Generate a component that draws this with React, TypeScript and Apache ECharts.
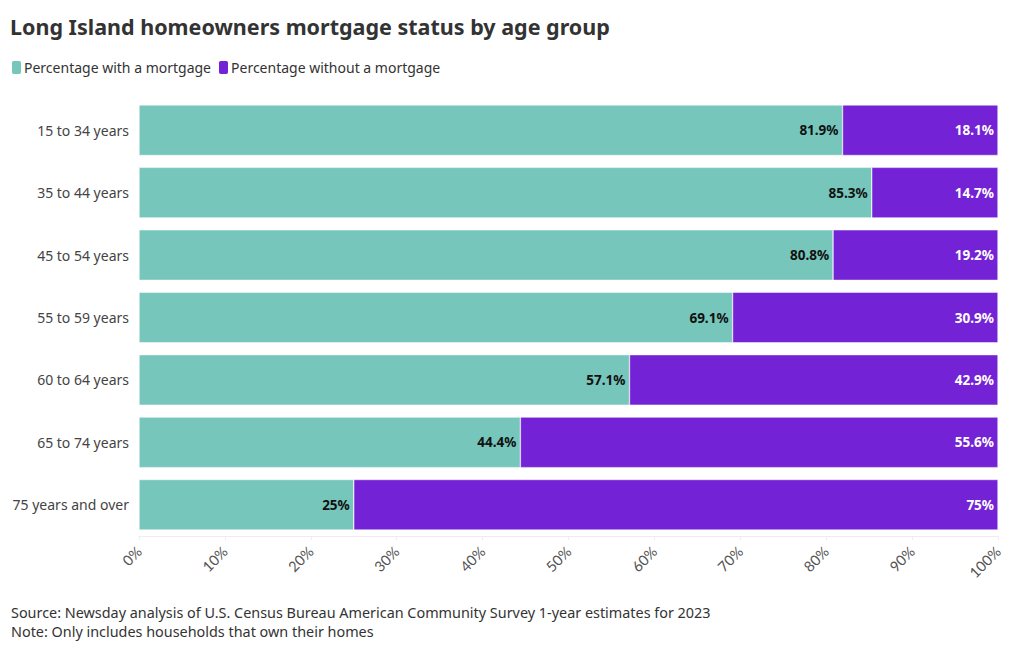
import React, { useEffect, useRef } from "react";
import * as echarts from "echarts";

const categories = [
  "15 to 34 years",
  "35 to 44 years",
  "45 to 54 years",
  "55 to 59 years",
  "60 to 64 years",
  "65 to 74 years",
  "75 years and over",
];
const withMortgage = [81.9, 85.3, 80.8, 69.1, 57.1, 44.4, 25];
const withoutMortgage = [18.1, 14.7, 19.2, 30.9, 42.9, 55.6, 75];
const seriesNames = ["Percentage with a mortgage", "Percentage without a mortgage"];
const colors = ["#76C6BC", "#7322D6"];

export default function App() {
  const ref = useRef<HTMLDivElement>(null);
  useEffect(() => {
    const chart = echarts.init(ref.current!, null, { renderer: "svg" });
    const font = "'Noto Sans', sans-serif";
    chart.setOption({
      animation: false,
      textStyle: { fontFamily: font },
      title: {
        text: "Long Island homeowners mortgage status by age group",
        left: 5,
        top: 10,
        textStyle: { fontSize: 21.5, fontWeight: "bold", color: "#333", fontFamily: font },
      },
      legend: {
        left: 5,
        top: 54,
        itemWidth: 11,
        itemHeight: 15,
        itemGap: 6,
        icon: "roundRect",
        data: seriesNames,
        textStyle: { fontSize: 14, color: "#333", padding: [0, 0, 0, -3] },
      },
      grid: { left: 139, right: 22, top: 99, bottom: 114 },
      xAxis: {
        type: "value",
        min: 0,
        max: 100,
        interval: 10,
        splitLine: { show: false },
        axisLine: { show: true, lineStyle: { color: "#f3e8f3" } },
        axisTick: { show: true, length: 4, lineStyle: { color: "#eee" } },
        axisLabel: {
          formatter: "{value}%",
          rotate: 45,
          fontSize: 14.5,
          color: "#555",
          fontFamily: "Lato, sans-serif",
          margin: 13,
        },
      },
      yAxis: {
        type: "category",
        inverse: true,
        data: categories,
        axisLine: { show: false },
        axisTick: { show: false },
        axisLabel: { fontSize: 14, color: "#444", margin: 10 },
      },
      series: [
        {
          name: seriesNames[0],
          type: "bar",
          stack: "total",
          data: withMortgage,
          barWidth: "81%",
          itemStyle: { color: colors[0], borderColor: "#fff", borderWidth: 0.5 },
          label: {
            show: true,
            position: "insideRight",
            formatter: "{c}%",
            color: "#111",
            fontWeight: "bold",
            fontSize: 13.5,
            distance: 4,
          },
        },
        {
          name: seriesNames[1],
          type: "bar",
          stack: "total",
          data: withoutMortgage,
          itemStyle: { color: colors[1], borderColor: "#fff", borderWidth: 0.5 },
          label: {
            show: true,
            position: "insideRight",
            formatter: "{c}%",
            color: "#fff",
            fontWeight: "bold",
            fontSize: 13.5,
            distance: 4,
          },
        },
      ],
      graphic: [
        {
          type: "text",
          left: 11,
          top: 605,
          style: {
            text: "Source: Newsday analysis of U.S. Census Bureau American Community Survey 1-year estimates for 2023",
            font: "14.4px 'Noto Sans', sans-serif",
            fill: "#333",
          },
        },
        {
          type: "text",
          left: 11,
          top: 624,
          style: {
            text: "Note: Only includes households that own their homes",
            font: "14.4px 'Noto Sans', sans-serif",
            fill: "#333",
          },
        },
      ],
    });
    return () => chart.dispose();
  }, []);
  return <div ref={ref} style={{ width: 1020, height: 650, position: "absolute", left: 0, top: 0 }} />;
}
